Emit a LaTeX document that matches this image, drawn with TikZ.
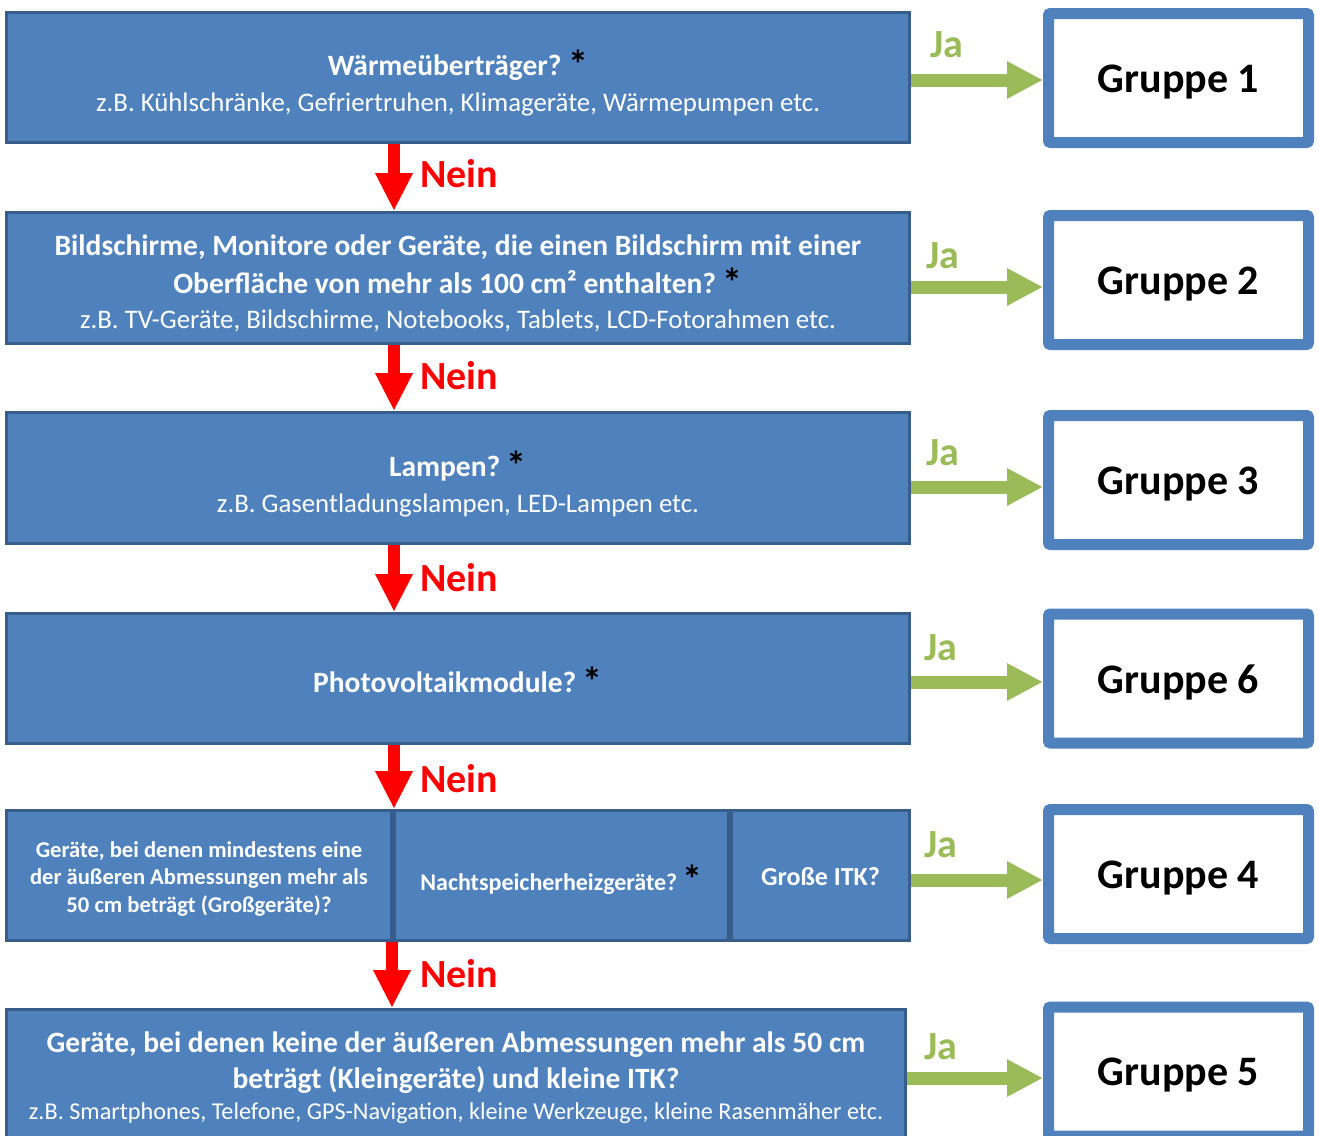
\documentclass[tikz,border=0pt]{standalone}
\usepackage{fontspec}
\setmainfont{Carlito}
\usetikzlibrary{arrows.meta,calc}
\definecolor{boxblue}{HTML}{4F81BD}
\definecolor{boxedge}{HTML}{385D8A}
\definecolor{jagreen}{HTML}{9BBB59}
\definecolor{neinred}{HTML}{FF0000}
\newcommand\stern{~\raisebox{-3pt}{\textcolor{black}{\fontsize{40}{40}\selectfont\bfseries *}}}
\newcommand\subf{\fontsize{26.8}{37}\selectfont\mdseries}
\begin{document}
\begin{tikzpicture}[x=1pt,y=-1pt,
  qbox/.style={rectangle, fill=boxblue, draw=boxedge, line width=3pt, inner sep=0pt, outer sep=1.5pt},
  qtext/.style={text=white, align=center, inner sep=0pt, font=\fontsize{29.5}{38}\selectfont\bfseries},
  gbox/.style={rectangle, fill=white, draw=boxblue, line width=11pt, rounded corners=2pt, inner sep=0pt,
    outer sep=5.5pt, minimum width=260pt, minimum height=129pt},
  gtext/.style={inner sep=0pt, font=\fontsize{42}{50}\selectfont\bfseries},
  jaarrow/.style={draw=jagreen, line width=13pt, -{Triangle[width=35pt,length=36pt]}},
  neinarrow/.style={draw=neinred, line width=12pt, -{Triangle[width=35pt,length=38pt]}},
  jalabel/.style={text=jagreen, font=\fontsize{40}{44}\selectfont\bfseries, inner sep=0pt},
  neinlabel/.style={text=neinred, font=\fontsize{40}{44}\selectfont\bfseries, inner sep=0pt}]
\useasboundingbox (0,0) rectangle (1319,1135);
\begin{scope}
\clip (0,0) rectangle (1319,1135);
% question boxes
\node[qbox, minimum width=903pt, minimum height=130pt] (b1) at (458,77.5) {};
\node[qbox, minimum width=903pt, minimum height=131pt] (b2) at (458,278) {};
\node[qbox, minimum width=903pt, minimum height=131pt] (b3) at (458,478) {};
\node[qbox, minimum width=903pt, minimum height=130pt] (b4) at (458,678.5) {};
\node[qbox, minimum width=385pt, minimum height=130pt] (b5a) at (199,875.5) {};
\node[qbox, minimum width=334pt, minimum height=130pt] (b5b) at (561.5,875.5) {};
\node[qbox, minimum width=178pt, minimum height=130pt] (b5c) at (820.5,875.5) {};
\node[qbox, minimum width=899pt, minimum height=130pt] (b6) at (456,1074.5) {};
% question texts
\node[qtext] (t1) at ($(b1.center)+(0,5)$)
  {Wärmeüberträger?\stern\\[-2pt]{\subf z.B. Kühlschränke, Gefriertruhen, Klimageräte, Wärmepumpen etc.}};
\node[qtext] (t2) at ($(b2.center)+(0,5)$)
  {Bildschirme, Monitore oder Geräte, die einen Bildschirm mit einer\\
   Oberfläche von mehr als 100 cm² enthalten?\stern\\[-3pt]
   {\subf z.B. TV-Geräte, Bildschirme, Notebooks, Tablets, LCD-Fotorahmen etc.}};
\node[qtext] (t3) at ($(b3.center)+(0,6)$)
  {Lampen?\stern\\[-2pt]{\subf z.B. Gasentladungslampen, LED-Lampen etc.}};
\node[qtext] (t4) at ($(b4.center)+(0,3)$) {Photovoltaikmodule?\stern};
\node[qtext, font=\fontsize{22.6}{27.5}\selectfont\bfseries] (t5a) at ($(b5a.center)+(0,3)$)
  {Geräte, bei denen mindestens eine\\der äußeren Abmessungen mehr als\\50 cm beträgt (Großgeräte)?};
\node[qtext, font=\fontsize{24}{27}\selectfont\bfseries] (t5b) at ($(b5b.center)+(0,4)$)
  {Nachtspeicherheizgeräte?\stern};
\node[qtext, font=\fontsize{26}{27}\selectfont\bfseries] (t5c) at ($(b5c.center)+(0,1)$)
  {Große ITK?};
\node[qtext, font=\fontsize{29.5}{36}\selectfont\bfseries] (t6) at ($(b6.center)+(0,3)$)
  {Geräte, bei denen keine der äußeren Abmessungen mehr als 50 cm\\
   beträgt (Kleingeräte) und kleine ITK?\\[-5pt]
   {\fontsize{24.2}{32}\selectfont\mdseries z.B. Smartphones, Telefone, GPS-Navigation, kleine Werkzeuge, kleine Rasenmäher etc.}};
% group boxes
\node[gbox] (g1) at (1178.5,78) {};
\node[gbox] (g2) at (1178.5,280) {};
\node[gbox] (g3) at (1178.5,480) {};
\node[gbox] (g6) at (1178.5,678.5) {};
\node[gbox] (g4) at (1178.5,874) {};
\node[gbox] (g5) at (1178.5,1071.5) {};
\node[gtext] (gt1) at ($(g1.center)+(0,4)$) {Gruppe 1};
\node[gtext] (gt2) at ($(g2.center)+(0,4)$) {Gruppe 2};
\node[gtext] (gt3) at ($(g3.center)+(0,4)$) {Gruppe 3};
\node[gtext] (gt6) at ($(g6.center)+(0,4)$) {Gruppe 6};
\node[gtext] (gt4) at ($(g4.center)+(0,4)$) {Gruppe 4};
\node[gtext] (gt5) at ($(g5.center)+(0,4)$) {Gruppe 5};
% arrow heights
\coordinate (y1) at (0,80);
\coordinate (y2) at (0,287);
\coordinate (y3) at (0,487);
\coordinate (y4) at (0,682);
\coordinate (y5) at (0,880);
\coordinate (y6) at (0,1078);
\coordinate (ax) at (394,0);
\coordinate (ax2) at (392,0);
% Ja arrows
\draw[jaarrow] (b1.east |- y1) -- (g1.west |- y1);
\draw[jaarrow] (b2.east |- y2) -- (g2.west |- y2);
\draw[jaarrow] (b3.east |- y3) -- (g3.west |- y3);
\draw[jaarrow] (b4.east |- y4) -- (g6.west |- y4);
\draw[jaarrow] (b5c.east |- y5) -- (g4.west |- y5);
\draw[jaarrow] (b6.east |- y6) -- (g5.west |- y6);
\node[jalabel] (ja1) at (947,45) {Ja};
\node[jalabel] (ja2) at (943,256) {Ja};
\node[jalabel] (ja3) at (943,453) {Ja};
\node[jalabel] (ja4) at (941,648) {Ja};
\node[jalabel] (ja5) at (941,845) {Ja};
\node[jalabel] (ja6) at (941,1047) {Ja};
% Nein arrows
\draw[neinarrow] (b1.south -| ax) -- (b2.north -| ax);
\draw[neinarrow] (b2.south -| ax) -- (b3.north -| ax);
\draw[neinarrow] (b3.south -| ax) -- (b4.north -| ax);
\draw[neinarrow] (b4.south -| ax) -- (b5a.north -| ax);
\draw[neinarrow] (b5a.south -| ax2) -- (b6.north -| ax2);
\node[neinlabel] (n1) at (459,174) {Nein};
\node[neinlabel] (n2) at (459,376) {Nein};
\node[neinlabel] (n3) at (459,578) {Nein};
\node[neinlabel] (n4) at (459,779) {Nein};
\node[neinlabel] (n5) at (459,974) {Nein};
\end{scope}
\end{tikzpicture}
\end{document}
